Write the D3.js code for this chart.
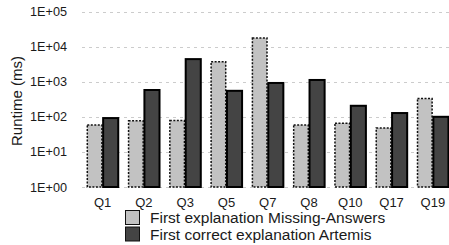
<!DOCTYPE html>
<meta charset="utf-8">
<style>
  body { margin: 0; background: #fff; }
  svg { display: block; font-family: "Liberation Sans", Arial, sans-serif; }
</style>
<body>
<script src="https://d3js.org/d3.v7.min.js"></script>
<script>
// data
var queries = ["Q1", "Q2", "Q3", "Q5", "Q7", "Q8", "Q10", "Q17", "Q19"];
var missingAnswers = [58, 77, 78, 3700, 17500, 58, 66, 48, 330];
var artemis = [92, 580, 4400, 550, 920, 1120, 206, 128, 100];
var seriesNames = ["First explanation Missing-Answers", "First correct explanation Artemis"];
var yTicks = [1, 10, 100, 1000, 10000, 100000];

var width = 449, height = 245;

var svg = d3.select("body").append("svg")
  .attr("width", width)
  .attr("height", height);

var x = d3.scaleBand()
  .domain(queries)
  .range([82, 453.5])
  .paddingInner(0.22)
  .paddingOuter(0.11);

var inner = d3.scaleBand()
  .domain([0, 1])
  .range([0, x.bandwidth()]);

var y = d3.scaleLog()
  .domain([1, 100000])
  .range([187, 11.5]);

// gridlines
svg.append("g").selectAll("line")
  .data(yTicks)
  .enter().append("line")
  .attr("x1", 82)
  .attr("x2", width)
  .attr("y1", function(d){ return Math.round(y(d)) + 0.5; })
  .attr("y2", function(d){ return Math.round(y(d)) + 0.5; })
  .attr("stroke", "#cccccc")
  .attr("stroke-width", 1)
  .attr("stroke-dasharray", "3,4");

// y tick labels
svg.append("g").selectAll("text")
  .data(yTicks)
  .enter().append("text")
  .attr("x", 67)
  .attr("y", function(d){ return y(d) + 4.5; })
  .attr("text-anchor", "end")
  .style("font-size", "12.7px")
  .attr("fill", "#1a1a1a")
  .text(function(d){ return "1E+0" + Math.round(Math.log10(d)); });

// y title
svg.append("text")
  .attr("transform", "translate(22,101) rotate(-90)")
  .attr("text-anchor", "middle")
  .style("font-size", "15px")
  .attr("fill", "#1a1a1a")
  .text("Runtime (ms)");

// bars
var groups = svg.append("g").selectAll("g")
  .data(queries)
  .enter().append("g")
  .attr("transform", function(d){ return "translate(" + x(d) + ",0)"; });

groups.append("rect")
  .attr("x", inner(0) + 0.75)
  .attr("width", inner.bandwidth() - 1.5)
  .attr("y", function(d, i){ return y(missingAnswers[i]); })
  .attr("height", function(d, i){ return y(1) - y(missingAnswers[i]); })
  .attr("fill", "#c2c2c2")
  .attr("stroke", "#111")
  .attr("stroke-width", 1.5)
  .attr("stroke-dasharray", "2,1.5");

groups.append("rect")
  .attr("x", inner(1) + 0.5)
  .attr("width", inner.bandwidth() - 1)
  .attr("y", function(d, i){ return y(artemis[i]); })
  .attr("height", function(d, i){ return y(1) - y(artemis[i]); })
  .attr("fill", "#444")
  .attr("stroke", "#000")
  .attr("stroke-width", 2);

// x labels
svg.append("g").selectAll("text")
  .data(queries)
  .enter().append("text")
  .attr("x", function(d){ return x(d) + x.bandwidth() / 2; })
  .attr("y", 207)
  .attr("text-anchor", "middle")
  .style("font-size", "13px")
  .attr("fill", "#1a1a1a")
  .text(function(d){ return d; });

// legend
var legendColors = ["#c2c2c2", "#444"];
var legend = svg.append("g").selectAll("g")
  .data(seriesNames)
  .enter().append("g")
  .attr("transform", function(d, i){ return "translate(125," + (210 + i * 16.5) + ")"; });

legend.append("rect")
  .attr("x", 0.5)
  .attr("y", 0.5)
  .attr("width", 14)
  .attr("height", 14)
  .attr("fill", function(d, i){ return legendColors[i]; })
  .attr("stroke", "#111")
  .attr("stroke-width", 1);

legend.append("text")
  .attr("x", 25)
  .attr("y", 13.3)
  .style("font-size", "15.5px")
  .attr("fill", "#1a1a1a")
  .text(function(d){ return d; });
</script>
</body>
